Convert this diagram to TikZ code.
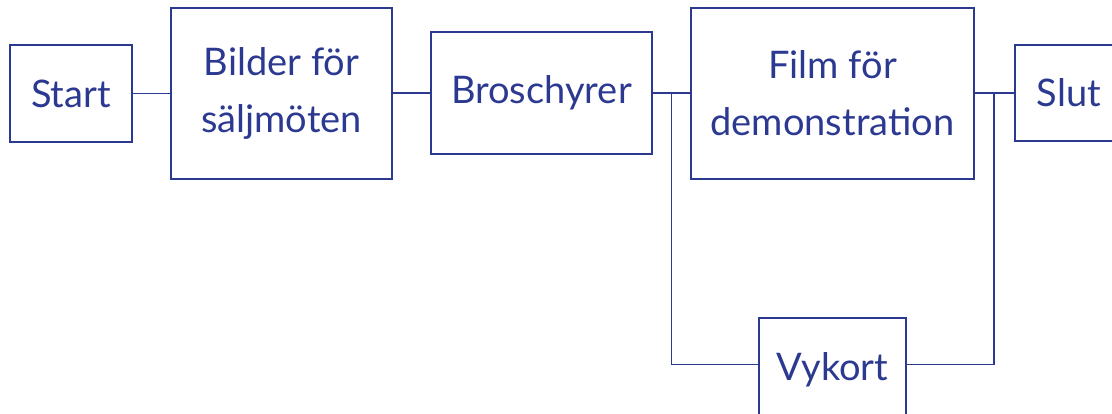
\documentclass[tikz,border=0pt]{standalone}
\usepackage{fontspec}
\setmainfont{Lato}
\definecolor{ink}{RGB}{43,57,144}
\begin{document}
\begin{tikzpicture}[x=1pt,y=-1pt,
  box/.style={draw=ink,line width=1.4pt,rectangle,inner sep=0pt,align=center,
    text=ink,font=\fontsize{38}{57}\selectfont},
  link/.style={draw=ink,line width=1.4pt}]
  \useasboundingbox (0,0) rectangle (1112,414);
  \clip (0,0) rectangle (1112,414);
  % boxes of the flow
  \node[box,minimum width=122pt,minimum height=97pt] (start) at (71,93.5) {Start};
  \node[box,minimum width=221pt,minimum height=171pt] (bilder) at (281.5,93.5) {Bilder för\\säljmöten};
  \node[box,minimum width=221pt,minimum height=122pt] (brosch) at (541.5,93) {Broschyrer};
  \node[box,minimum width=283pt,minimum height=171pt] (film) at (832.5,93.5) {Film för\\demonstration};
  \node[box,minimum width=108pt,minimum height=96pt] (slut) at (1069,93) {Slut};
  \node[box,minimum width=147pt,minimum height=104pt] (vykort) at (832.5,370) {Vykort};
  % branch points and the level of the lower branch
  \coordinate (split) at (671.5,93);
  \coordinate (merge) at (994,93);
  \coordinate (low) at (0,364.5);
  % connectors
  \draw[link] (start.east) -- (bilder.west |- start.east);
  \draw[link] (bilder.east |- brosch.east) -- (brosch.west);
  \draw[link] (brosch.east) -- (film.west |- brosch.east);
  \draw[link] (film.east |- slut.west) -- (slut.west);
  \draw[link] (split) |- (vykort.west |- low);
  \draw[link] (merge) |- (vykort.east |- low);
\end{tikzpicture}
\end{document}
